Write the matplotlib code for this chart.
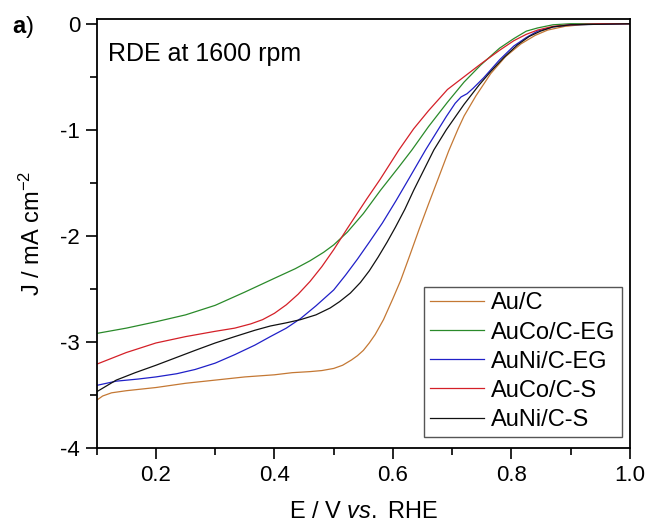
import matplotlib
matplotlib.use("Agg")
import matplotlib.pyplot as plt
import numpy as np

plt.rcParams['font.family'] = ['Liberation Sans', 'DejaVu Sans']
plt.rcParams['mathtext.fontset'] = 'custom'
plt.rcParams['mathtext.rm'] = 'Liberation Sans'
plt.rcParams['mathtext.it'] = 'Liberation Sans:italic'

# ---- data ----
au_c_x = [0.10, 0.11, 0.125, 0.15, 0.20, 0.25, 0.30, 0.35, 0.40, 0.43, 0.46, 0.48, 0.50, 0.515,
          0.53, 0.54, 0.55, 0.56, 0.57, 0.584, 0.60, 0.613, 0.628, 0.644, 0.66, 0.675, 0.694,
          0.71, 0.72, 0.74, 0.765, 0.79, 0.816, 0.84, 0.861, 0.89, 0.917, 0.95, 1.0]
au_c_y = [-3.55, -3.51, -3.48, -3.46, -3.43, -3.39, -3.36, -3.33, -3.31, -3.29, -3.28, -3.27,
          -3.25, -3.22, -3.17, -3.13, -3.08, -3.01, -2.93, -2.79, -2.59, -2.42, -2.19, -1.94,
          -1.70, -1.48, -1.20, -0.99, -0.87, -0.68, -0.47, -0.31, -0.19, -0.11, -0.06, -0.025,
          -0.01, 0.0, 0.0]

auco_eg_x = [0.10, 0.15, 0.20, 0.25, 0.30, 0.35, 0.40, 0.435, 0.46, 0.483, 0.50, 0.523, 0.55,
             0.579, 0.61, 0.632, 0.66, 0.692, 0.72, 0.748, 0.78, 0.804, 0.825, 0.844, 0.87,
             0.90, 1.0]
auco_eg_y = [-2.92, -2.87, -2.81, -2.745, -2.655, -2.53, -2.40, -2.31, -2.235, -2.155, -2.085,
             -1.965, -1.79, -1.57, -1.35, -1.19, -0.97, -0.74, -0.55, -0.39, -0.23, -0.14,
             -0.07, -0.04, -0.01, 0.0, 0.0]

auni_eg_x = [0.10, 0.133, 0.17, 0.20, 0.235, 0.266, 0.30, 0.333, 0.367, 0.393, 0.42, 0.444,
             0.47, 0.50, 0.52, 0.54, 0.56, 0.582, 0.605, 0.627, 0.655, 0.69, 0.705, 0.715,
             0.725, 0.735, 0.753, 0.78, 0.804, 0.825, 0.844, 0.87, 0.90, 1.0]
auni_eg_y = [-3.41, -3.37, -3.35, -3.33, -3.30, -3.26, -3.20, -3.12, -3.03, -2.95, -2.87, -2.78,
             -2.66, -2.51, -2.37, -2.22, -2.06, -1.88, -1.67, -1.46, -1.19, -0.875, -0.75,
             -0.69, -0.66, -0.61, -0.51, -0.34, -0.21, -0.13, -0.07, -0.03, -0.01, 0.0]

auco_s_x = [0.10, 0.15, 0.20, 0.25, 0.30, 0.333, 0.36, 0.38, 0.40, 0.42, 0.44, 0.46, 0.48,
            0.50, 0.523, 0.556, 0.578, 0.61, 0.635, 0.66, 0.692, 0.72, 0.748, 0.78, 0.804,
            0.825, 0.844, 0.87, 0.90, 0.95, 1.0]
auco_s_y = [-3.21, -3.10, -3.01, -2.95, -2.90, -2.87, -2.83, -2.79, -2.73, -2.65, -2.55, -2.43,
            -2.29, -2.13, -1.93, -1.65, -1.47, -1.19, -0.99, -0.82, -0.62, -0.50, -0.38, -0.25,
            -0.16, -0.10, -0.06, -0.025, -0.01, 0.0, 0.0]

auni_s_x = [0.10, 0.115, 0.133, 0.165, 0.20, 0.233, 0.266, 0.30, 0.333, 0.367, 0.393, 0.42,
            0.444, 0.47, 0.494, 0.51, 0.528, 0.545, 0.56, 0.575, 0.59, 0.604, 0.62, 0.635,
            0.652, 0.669, 0.69, 0.72, 0.745, 0.765, 0.787, 0.81, 0.83, 0.849, 0.87, 0.90, 1.0]
auni_s_y = [-3.47, -3.42, -3.36, -3.29, -3.22, -3.15, -3.08, -3.01, -2.95, -2.89, -2.85, -2.82,
            -2.79, -2.745, -2.68, -2.62, -2.54, -2.44, -2.33, -2.20, -2.06, -1.92, -1.75, -1.57,
            -1.38, -1.19, -1.00, -0.76, -0.58, -0.45, -0.32, -0.20, -0.12, -0.07, -0.03, -0.01,
            0.0]

labels = ['Au/C', 'AuCo/C-EG', 'AuNi/C-EG', 'AuCo/C-S', 'AuNi/C-S']
colors = ['#c47834', '#2a8a2a', '#2020c8', '#d42028', '#111111']
x_ticks = [0.2, 0.4, 0.6, 0.8, 1.0]
y_ticks = [0, -1, -2, -3, -4]

fig = plt.figure(figsize=(6.49, 5.25), dpi=100)
ax = fig.add_axes([0.149, 0.1467, 0.8217, 0.8162])

series = [(au_c_x, au_c_y), (auco_eg_x, auco_eg_y), (auni_eg_x, auni_eg_y),
          (auco_s_x, auco_s_y), (auni_s_x, auni_s_y)]
for (xs, ys), lab, c in zip(series, labels, colors):
    ax.plot(xs, ys, color=c, lw=0.9, label=lab)

ax.set_xlim(0.1, 1.0)
ax.set_ylim(-4, 0.04)
ax.set_xticks(x_ticks)
ax.set_xticklabels([f"{v:.1f}" for v in x_ticks])
ax.set_xticks(np.arange(0.1, 1.0, 0.2), minor=True)
ax.set_yticks(y_ticks)
ax.set_yticklabels([f"{v:d}" for v in y_ticks])
ax.set_yticks([-0.5, -1.5, -2.5, -3.5], minor=True)
ax.tick_params(which='major', direction='out', length=8, width=1.2, labelsize=16, pad=4)
ax.tick_params(which='minor', direction='out', length=5, width=1.2)
for s in ax.spines.values():
    s.set_linewidth(1.3)

ax.set_xlabel(r"E / V $\mathit{vs.}$ RHE", fontsize=17, labelpad=11)
ax.set_ylabel(r"J / mA cm$^{-2}$", fontsize=17, labelpad=11)

ax.text(0.021, 0.948, "RDE at 1600 rpm", transform=ax.transAxes, fontsize=18,
        ha='left', va='top')

fig.text(12.5 / 649, 1 - 33 / 525, "a", fontsize=17, fontweight='bold', ha='left', va='baseline')
fig.text(26 / 649, 1 - 33 / 525, ")", fontsize=17, ha='left', va='baseline')

leg = ax.legend(loc='lower right', bbox_to_anchor=(0.9844, 0.0264), fontsize=17,
                frameon=True, fancybox=False, edgecolor='#555555', framealpha=1,
                handlelength=2.3, handletextpad=0.3, labelspacing=0.3,
                borderpad=0.25, borderaxespad=0)
leg.get_frame().set_linewidth(1.0)

fig.savefig("out.png", dpi=100)
